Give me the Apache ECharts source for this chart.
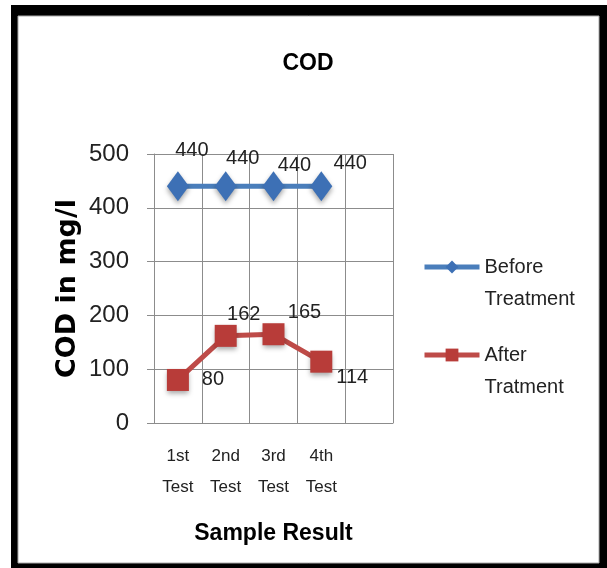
<!DOCTYPE html>
<html>
<head>
<meta charset="utf-8">
<script src="https://cdn.jsdelivr.net/npm/echarts@6/dist/echarts.min.js"></script>
<style>
  html, body { margin: 0; padding: 0; background: #fff; }
  #chart { width: 607px; height: 568px; }
</style>
</head>
<body>
<div id="chart"></div>
<script>
// data
const categories = ['1st\nTest', '2nd\nTest', '3rd\nTest', '4th\nTest', '']
const beforeTreatment = [440, 440, 440, 440]
const afterTreatment = [80, 162, 165, 114]
const yTicks = [0, 100, 200, 300, 400, 500]

// label nudges (px), like the hand-moved labels of the original
const beforeNudge = [[14, -36], [17, -28], [21, -21], [29, -23]]
const afterNudge = [[35, 0], [18, -21], [31, -22], [31, 16]]

const FONT = '"Liberation Sans", Arial, sans-serif'
const BLUE = '#4a7ebb'
const RED = '#be4b48'

function withLabels(values, nudge) {
  return values.map((v, i) => ({
    value: v,
    label: { offset: nudge[i] }
  }))
}

const chart = echarts.init(document.getElementById('chart'))

chart.setOption({
  animation: false,
  graphic: [
    { type: 'rect', z: -10, shape: { x: 11, y: 5, width: 596, height: 563 }, style: { fill: '#000' } },
    { type: 'rect', z: -9, shape: { x: 18, y: 16, width: 581, height: 547 }, style: { fill: '#fff', stroke: '#aaa', lineWidth: 1 } }
  ],
  title: {
    text: 'COD',
    left: 303,
    top: 47,
    textAlign: 'center',
    textStyle: { fontFamily: FONT, fontWeight: 'bold', fontSize: 23, color: '#000' }
  },
  legend: {
    orient: 'vertical',
    left: 417,
    top: 214,
    padding: 5,
    itemWidth: 55,
    itemHeight: 16,
    itemGap: -8,
    data: ['Before Treatment', 'After Tratment'],
    // empty first line so the first text line sits level with the icon
    formatter: n => ' \n' + n.replace(' ', '\n'),
    lineStyle: { width: 5 },
    textStyle: { fontFamily: FONT, fontSize: 20, color: '#222', lineHeight: 32 }
  },
  grid: { left: 154, right: 214, top: 154, bottom: 145 },
  xAxis: {
    type: 'category',
    data: categories,
    boundaryGap: true,
    name: 'Sample Result',
    nameLocation: 'middle',
    nameGap: 99,
    nameTextStyle: { fontFamily: FONT, fontWeight: 'bold', fontSize: 23, color: '#000' },
    axisLine: { lineStyle: { color: '#8c8c8c', width: 1 } },
    axisTick: { show: false },
    axisLabel: {
      interval: 0, margin: 18,
      fontFamily: FONT, fontSize: 17, lineHeight: 31, color: '#222'
    },
    splitLine: { show: true, lineStyle: { color: '#8c8c8c', width: 1 } }
  },
  yAxis: {
    type: 'value',
    min: yTicks[0],
    max: yTicks[yTicks.length - 1],
    interval: 100,
    name: 'COD in mg/l',
    nameLocation: 'middle',
    nameRotate: 90,
    nameGap: 73,
    nameTextStyle: { fontFamily: '"DejaVu Sans", sans-serif', fontWeight: 'bold', fontSize: 27, color: '#000' },
    axisLine: { show: true, lineStyle: { color: '#8c8c8c', width: 1 } },
    axisTick: { show: true, length: 7, lineStyle: { color: '#8c8c8c' } },
    axisLabel: { margin: 25, fontFamily: FONT, fontSize: 24, color: '#222' },
    splitLine: { show: true, lineStyle: { color: '#8c8c8c', width: 1 } }
  },
  series: [
    {
      name: 'Before Treatment',
      type: 'line',
      data: withLabels(beforeTreatment, beforeNudge),
      symbol: 'diamond',
      symbolSize: [22, 30],
      lineStyle: { color: BLUE, width: 5 },
      itemStyle: {
        color: '#3d70b5',
        shadowBlur: 5, shadowOffsetY: 3, shadowColor: 'rgba(0,0,0,0.35)'
      },
      label: {
        show: true, position: 'inside',
        fontFamily: FONT, fontSize: 20, color: '#222'
      }
    },
    {
      name: 'After Tratment',
      type: 'line',
      data: withLabels(afterTreatment, afterNudge),
      symbol: 'rect',
      symbolSize: 22,
      lineStyle: { color: RED, width: 5 },
      itemStyle: {
        color: '#b83c39',
        shadowBlur: 5, shadowOffsetY: 3, shadowColor: 'rgba(0,0,0,0.35)'
      },
      label: {
        show: true, position: 'inside',
        fontFamily: FONT, fontSize: 20, color: '#222'
      }
    }
  ]
})
</script>
</body>
</html>
